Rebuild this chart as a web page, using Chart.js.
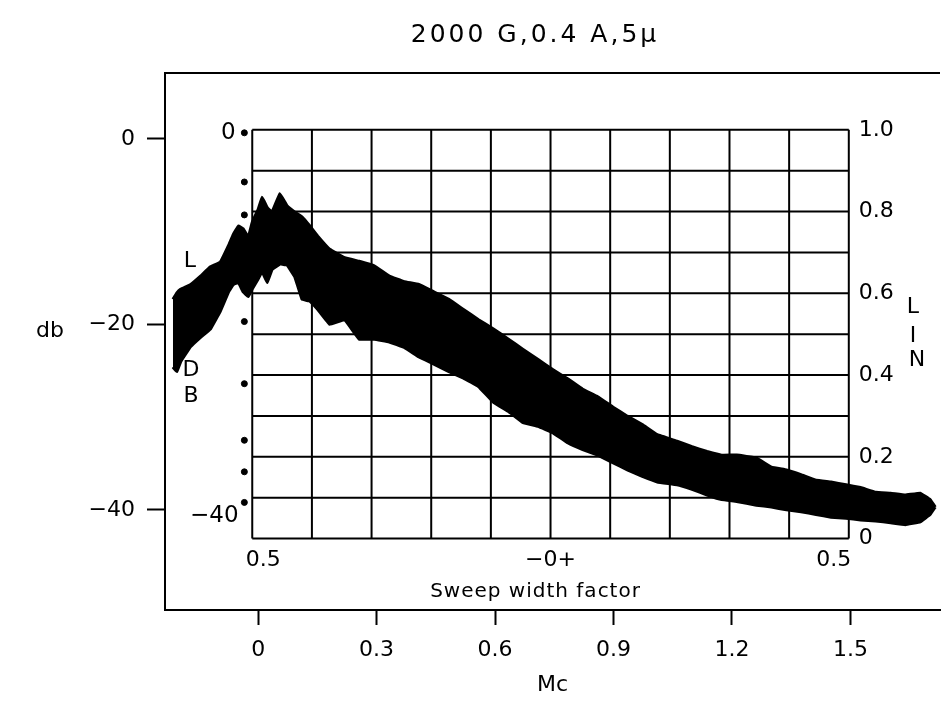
<!DOCTYPE html>
<html>
<head>
<meta charset="utf-8">
<title>2000 G, 0.4 A, 5 μ</title>
<script src="https://cdn.jsdelivr.net/npm/chart.js@4.4.0/dist/chart.umd.min.js"></script>
<style>
    html, body { margin: 0; padding: 0; background: #fff; }
    #wrap { width: 945px; height: 704px; }
</style>
</head>
<body>
<div id="wrap"><canvas id="chart" width="945" height="704"></canvas></div>
<script>
// Data (Mc on x, db on y)
const mcValues = [-0.216, -0.206, -0.196, -0.171, -0.146, -0.121, -0.096, -0.075, -0.063, -0.050,
    -0.038, -0.025, -0.015, 0.000, 0.010, 0.023, 0.035, 0.055, 0.073, 0.093,
    0.111, 0.131, 0.151, 0.181, 0.219, 0.256, 0.294, 0.332, 0.370, 0.407,
    0.445, 0.483, 0.520, 0.558, 0.596, 0.634, 0.671, 0.709, 0.747, 0.785,
    0.822, 0.860, 0.898, 0.935, 0.973, 1.011, 1.061, 1.099, 1.137, 1.174,
    1.212, 1.262, 1.300, 1.338, 1.375, 1.413, 1.451, 1.489, 1.526, 1.564,
    1.602, 1.639, 1.677, 1.702, 1.715];
const upperDb = [-17.3, -16.6, -16.2, -15.7, -14.8, -13.8, -13.3, -11.5, -10.3, -9.4,
    -9.7, -10.6, -9.0, -7.6, -6.3, -7.4, -7.9, -5.9, -7.2, -7.9,
    -8.4, -9.4, -10.5, -11.9, -12.8, -13.2, -13.7, -14.8, -15.4, -15.7,
    -16.5, -17.3, -18.4, -19.5, -20.5, -21.6, -22.7, -23.8, -24.9, -25.9,
    -27.0, -27.8, -28.9, -29.9, -30.8, -31.9, -32.6, -33.2, -33.7, -34.1,
    -34.1, -34.4, -35.4, -35.7, -36.2, -36.8, -37.0, -37.3, -37.6, -38.1,
    -38.2, -38.4, -38.2, -38.9, -39.7];
const lowerDb = [-24.6, -25.1, -24.0, -22.4, -21.4, -20.5, -18.6, -16.5, -15.7, -15.5,
    -16.5, -17.0, -16.2, -15.1, -14.3, -15.5, -14.1, -13.5, -13.6, -14.9,
    -17.3, -17.5, -18.4, -20.0, -19.5, -21.6, -21.6, -21.9, -22.5, -23.5,
    -24.3, -25.1, -25.8, -26.7, -28.4, -29.4, -30.6, -31.0, -31.7, -32.8,
    -33.5, -34.1, -34.9, -35.7, -36.4, -37.0, -37.3, -37.8, -38.4, -38.9,
    -39.1, -39.5, -39.7, -40.0, -40.2, -40.5, -40.8, -40.9, -41.1, -41.2,
    -41.4, -41.6, -41.3, -40.5, -39.7];

// Outer axes
const mcTicks = [0, 0.3, 0.6, 0.9, 1.2, 1.5];
const dbTicks = [-40, -20, 0];

// Inner scale: dots on the left, LIN on the right, sweep width underneath
const scaleDotMc = -0.035;
const scaleDotDb = [0.65, -4.65, -8.2, -19.7, -26.4, -32.5, -35.9, -39.2];
const innerDbLabels = ['0', '\u221240'];
const linTicks = [0, 0.2, 0.4, 0.6, 0.8, 1.0];
const sweepLabels = ['0.5', '\u22120+', '0.5'];

const FONT = "'DejaVu Sans', sans-serif";
const innerBox = { left: -0.015, right: 1.496, top: 0.97, bottom: -43.1 };

function minus(v) {
    return v < 0 ? '\u2212' + Math.abs(v) : String(v);
}

function text(ctx, str, x, y, size, align, spacing) {
    ctx.font = size + 'px ' + FONT;
    ctx.textAlign = align || 'center';
    ctx.textBaseline = 'middle';
    ctx.letterSpacing = (spacing || 0) + 'px';
    ctx.fillText(str, x, y);
    ctx.letterSpacing = '0px';
}

// Inner grid, frame and lettering
const paperPlugin = {
    id: 'paper',
    beforeDatasetsDraw(chart) {
        const ctx = chart.ctx;
        const xs = chart.scales.x, ys = chart.scales.y;
        const gl = xs.getPixelForValue(innerBox.left), gr = xs.getPixelForValue(innerBox.right);
        const gt = ys.getPixelForValue(innerBox.top), gb = ys.getPixelForValue(innerBox.bottom);
        ctx.save();
        ctx.strokeStyle = '#000';
        ctx.lineWidth = 2;
        ctx.beginPath();
        for (let i = 0; i <= 10; i++) {
            const px = gl + (gr - gl) * i / 10;
            ctx.moveTo(px, gt);
            ctx.lineTo(px, gb);
            const py = gb + (gt - gb) * i / 10;
            ctx.moveTo(gl, py);
            ctx.lineTo(gr, py);
        }
        ctx.stroke();
        ctx.restore();
    },
    afterDraw(chart) {
        const ctx = chart.ctx;
        const area = chart.chartArea;
        const xs = chart.scales.x, ys = chart.scales.y;
        const gl = xs.getPixelForValue(innerBox.left), gr = xs.getPixelForValue(innerBox.right);
        const gt = ys.getPixelForValue(innerBox.top), gb = ys.getPixelForValue(innerBox.bottom);
        ctx.save();
        ctx.fillStyle = '#000';
        ctx.strokeStyle = '#000';
        ctx.lineWidth = 2;

        // top edge of the outer frame (right edge is cut off in the scan)
        ctx.beginPath();
        ctx.moveTo(area.left, area.top);
        ctx.lineTo(area.right, area.top);
        ctx.stroke();

        text(ctx, '2000 G,0.4 A,5\u03bc', 535, 35, 25, 'center', 3);
        text(ctx, 'db', 50, 331, 22);

        // left inner scale
        const dotX = xs.getPixelForValue(scaleDotMc);
        text(ctx, innerDbLabels[0], dotX - 16, ys.getPixelForValue(scaleDotDb[0]), 23);
        text(ctx, innerDbLabels[1], dotX - 30, ys.getPixelForValue(scaleDotDb[scaleDotDb.length - 1]) + 14, 23);
        text(ctx, 'L', 190, 261, 22);
        text(ctx, 'D', 191, 370, 22);
        text(ctx, 'B', 191, 396, 22);

        // right LIN scale
        linTicks.forEach(v => {
            const label = v === 0 ? '0' : v.toFixed(1);
            text(ctx, label, gr + 10, gb + (gt - gb) * v, 22, 'left');
        });
        text(ctx, 'L', 913, 307, 22);
        text(ctx, 'I', 913, 336, 22);
        text(ctx, 'N', 917, 360, 22);

        // sweep width factor
        text(ctx, sweepLabels[0], gl + 11, gb + 22, 22);
        text(ctx, sweepLabels[1], (gl + gr) / 2, gb + 22, 22);
        text(ctx, sweepLabels[2], gr - 15, gb + 22, 22);
        text(ctx, 'Sweep width factor', (gl + gr) / 2 - 15, gb + 53, 20, 'center', 1);
        ctx.restore();
    }
};

const chart = new Chart(document.getElementById('chart'), {
    type: 'line',
    data: {
        datasets: [
            {
                label: 'upper',
                data: mcValues.map((x, i) => ({ x: x, y: upperDb[i] })),
                borderColor: '#000',
                backgroundColor: '#000',
                borderWidth: 3,
                pointRadius: 0,
                fill: '+1',
                tension: 0.05
            },
            {
                label: 'lower',
                data: mcValues.map((x, i) => ({ x: x, y: lowerDb[i] })),
                borderColor: '#000',
                backgroundColor: '#000',
                borderWidth: 3,
                pointRadius: 0,
                fill: false,
                tension: 0.05
            },
            {
                type: 'scatter',
                label: 'scale dots',
                data: scaleDotDb.map(d => ({ x: scaleDotMc, y: d })),
                backgroundColor: '#000',
                borderColor: '#000',
                pointRadius: 3,
                showLine: false
            }
        ]
    },
    options: {
        responsive: false,
        animation: false,
        devicePixelRatio: 1,
        layout: { padding: { top: 73, left: 0, right: 0, bottom: 0 } },
        plugins: {
            legend: { display: false },
            tooltip: { enabled: false },
            title: { display: false }
        },
        scales: {
            x: {
                type: 'linear',
                min: -0.236,
                max: 1.727,
                afterFit: s => { s.height = 94; },
                afterBuildTicks: s => { s.ticks = mcTicks.map(v => ({ value: v })); },
                grid: { drawOnChartArea: false, drawTicks: true, tickLength: 15, tickWidth: 2, tickColor: '#000' },
                border: { display: true, color: '#000', width: 2 },
                ticks: {
                    color: '#000',
                    padding: 12,
                    autoSkip: false,
                    maxRotation: 0,
                    font: { family: FONT, size: 22 },
                    callback: v => v === 0 ? '0' : v.toFixed(1)
                },
                title: {
                    display: true,
                    text: 'Mc',
                    color: '#000',
                    font: { family: FONT, size: 22 },
                    padding: { top: 0, bottom: 6 }
                }
            },
            y: {
                type: 'linear',
                min: -50.8,
                max: 7.1,
                afterFit: s => { s.width = 165; },
                afterBuildTicks: s => { s.ticks = dbTicks.map(v => ({ value: v })); },
                grid: { drawOnChartArea: false, drawTicks: true, tickLength: 18, tickWidth: 2, tickColor: '#000' },
                border: { display: true, color: '#000', width: 2 },
                ticks: {
                    color: '#000',
                    padding: 12,
                    font: { family: FONT, size: 22 },
                    callback: v => minus(v)
                }
            }
        }
    },
    plugins: [paperPlugin]
});
</script>
</body>
</html>
